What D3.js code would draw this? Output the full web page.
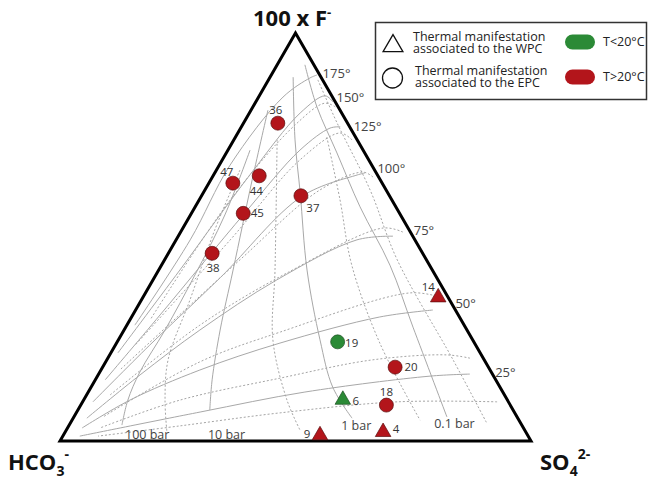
<!DOCTYPE html>
<html>
<head>
<meta charset="utf-8">
<script src="https://cdn.jsdelivr.net/npm/d3@7"></script>
<style>
  body { margin: 0; background: #fff; }
  svg text { font-family: "Open Sans", "Noto Sans", sans-serif; }
</style>
</head>
<body>
<div id="chart"></div>
<script>
// Samples: F (x100) and SO4 percentages, HCO3 is the remainder
const sampleIds = ['36', '47', '44', '45', '37', '38', '19', '20', '18', '14', '6', '9', '4'];
const sampleF = [77.9, 63.2, 65.0, 55.8, 60.1, 46.0, 24.3, 18.1, 8.8, 35.2, 10.1, 1.4, 2.2];
const sampleSO4 = [7.3, 5.1, 9.8, 11.0, 21.1, 9.3, 46.8, 62.1, 64.9, 62.7, 55.0, 54.5, 67.5];
const sampleGroup = ['EPC', 'EPC', 'EPC', 'EPC', 'EPC', 'EPC', 'EPC', 'EPC', 'EPC', 'WPC', 'WPC', 'WPC', 'WPC'];
const sampleTemp = ['hot', 'hot', 'hot', 'hot', 'hot', 'hot', 'cold', 'hot', 'hot', 'hot', 'cold', 'hot', 'hot'];

// Isotherms, [F, SO4] points from the right edge towards the HCO3 corner
const isothermNames = ['175°', '150°', '125°', '100°', '75°', '50°', '25°'];
const isothermLabelF = [90.2, 84.3, 77.0, 66.9, 51.5, 33.8, 16.9];
const solidIsotherms = [
  [[89.7, 9.7], [89.0, 8.6], [84.3, 5.2], [67.6, 2.3], [49.3, 3.0], [28.4, 1.7]],
  [[83.1, 16.4], [84.6, 14.0], [80.4, 10.8], [65.2, 7.7], [41.9, 4.5], [21.6, 1.5]],
  [[77.0, 21.0], [76.7, 19.0], [71.3, 15.3], [55.9, 11.3], [30.9, 5.8], [15.0, 2.1]],
  [[65.7, 31.9], [65.2, 30.5], [60.0, 21.4], [40.0, 14.0], [23.5, 7.3], [9.6, 2.2]],
  [[50.2, 45.6], [49.3, 38.4], [39.5, 26.3], [27.2, 16.1], [16.2, 8.9], [5.6, 2.9]],
  [[32.1, 63.1], [30.4, 52.7], [24.0, 34.7], [17.4, 21.0], [10.0, 9.8], [3.2, 3.1]],
  [[16.4, 78.8], [15.9, 70.6], [12.0, 46.0], [7.1, 26.2], [1.2, 3.6]]
];
const dottedIsotherms = [
  [[81.9, 17.5], [82.8, 14.8], [77.5, 11.2], [59.1, 6.6], [29.7, 4.3]],
  [[73.8, 25.1], [75.5, 21.7], [68.9, 16.5], [49.3, 11.5], [23.5, 4.2]],
  [[64.7, 34.1], [65.9, 31.4], [61.5, 24.4], [44.4, 16.0], [17.4, 4.0]],
  [[51.2, 47.2], [52.2, 42.5], [41.2, 27.6], [28.4, 15.5], [11.3, 5.0]],
  [[35.3, 63.0], [36.3, 56.2], [26.7, 33.4], [19.4, 20.0], [5.9, 6.2]],
  [[20.3, 76.9], [21.1, 71.6], [19.9, 56.5], [15.4, 39.0], [10.0, 20.4], [3.2, 6.9]],
  [[9.6, 88.0], [9.6, 66.8], [6.9, 43.3], [3.7, 23.6], [1.2, 7.5]]
];

// Isobars (PCO2), [F, SO4] points from top to bottom
const isobarNames = ['100 bar', '10 bar', '1 bar', '0.1 bar'];
const isobarLabelF = [1.2, 1.2, 3.2, 3.9];
const isobarLabelSO4 = [13.2, 30.8, 58.1, 77.5];
const solidIsobars = [
  [[71.3, 4.7], [55.4, 7.3], [40.7, 8.3], [27.2, 8.7], [16.9, 8.5], [10.0, 9.4], [3.9, 11.2]],
  [[81.1, 3.6], [64.0, 8.8], [41.9, 15.8], [27.2, 20.4], [15.0, 24.8], [7.6, 28.0]],
  [[89.2, 4.9], [73.8, 13.0], [60.8, 20.6], [41.9, 31.5], [24.8, 42.8], [13.2, 51.3], [5.6, 59.2]],
  [[92.2, 5.9], [81.9, 13.6], [70.6, 23.5], [57.4, 35.0], [43.1, 48.5], [27.9, 61.0], [5.9, 79.2]]
];
const dottedIsobars = [
  [[66.4, 5.0], [51.7, 7.0], [34.6, 10.3], [19.9, 13.0], [10.0, 17.3], [2.2, 21.6]],
  [[73.8, 9.2], [41.9, 24.7], [24.8, 32.8], [10.0, 43.2], [2.7, 49.6]],
  [[74.5, 19.4], [59.1, 29.9], [43.1, 40.4], [24.0, 55.9], [5.1, 73.9]],
  [[88.5, 10.5], [77.9, 19.9], [61.5, 35.1], [44.4, 49.4], [19.9, 73.5], [4.4, 88.4]]
];

const width = 649;
const height = 479;
const red = '#b3151b';
const green = '#2b8a36';

const svg = d3.select('#chart')
  .append('svg')
  .attr('width', width)
  .attr('height', height);

// ternary projection through two linear scales
const xScale = d3.scaleLinear().domain([0, 100]).range([60, 531]);
const yScale = d3.scaleLinear().domain([0, 100]).range([441, 33]);
const px = (f, s) => xScale(s + f / 2);
const py = f => yScale(f);

const curve = d3.line()
  .x(d => px(d[0], d[1]))
  .y(d => py(d[0]))
  .curve(d3.curveCatmullRom.alpha(0.5));

const grid = svg.append('g');

function drawLines(data, dashed) {
  grid.selectAll(null)
    .data(data)
    .join('path')
    .attr('d', curve)
    .attr('fill', 'none')
    .attr('stroke', dashed ? '#9a9a9a' : '#a8a8a8')
    .attr('stroke-width', dashed ? 0.9 : 1)
    .attr('stroke-dasharray', dashed ? '2,2' : null);
}
drawLines(dottedIsotherms, true);
drawLines(dottedIsobars, true);
drawLines(solidIsotherms, false);
drawLines(solidIsobars, false);

// outer triangle
const corners = [[100, 0], [0, 0], [0, 100]];
svg.append('path')
  .attr('d', d3.line().x(d => px(d[0], d[1])).y(d => py(d[0]))(corners) + 'Z')
  .attr('fill', 'none')
  .attr('stroke', '#000')
  .attr('stroke-width', 3)
  .attr('stroke-linejoin', 'miter');

// isotherm labels along the right edge
svg.selectAll('text.iso')
  .data(isothermNames)
  .join('text')
  .attr('class', 'iso')
  .attr('x', (d, i) => px(isothermLabelF[i], 100 - isothermLabelF[i]) + 4)
  .attr('y', (d, i) => py(isothermLabelF[i]))
  .attr('dy', '0.35em')
  .style('font-size', '13px')
  .style('fill', '#444')
  .text(d => d);

svg.selectAll('text.bar')
  .data(isobarNames)
  .join('text')
  .attr('class', 'bar')
  .attr('x', (d, i) => px(isobarLabelF[i], isobarLabelSO4[i]))
  .attr('y', (d, i) => py(isobarLabelF[i]))
  .attr('dy', '0.2em')
  .style('font-size', '12.5px')
  .style('fill', '#444')
  .text(d => d);

// samples
const samples = sampleIds.map((id, i) => ({
  id, f: sampleF[i], s: sampleSO4[i], group: sampleGroup[i], temp: sampleTemp[i]
}));

const labelOffset = {
  '36': [-2, -13], '47': [-6, -11], '44': [-3, 15], '45': [14, 0], '37': [12, 12],
  '38': [1, 15], '19': [14, 1], '20': [16, 0], '18': [0, -13], '14': [-10, -10],
  '6': [13, 1], '9': [-13, -1], '4': [13, -3]
};

const tri = d3.symbol().type(d3.symbolTriangle).size(105);

svg.selectAll('path.sample')
  .data(samples)
  .join('path')
  .attr('class', 'sample')
  .attr('transform', d => `translate(${px(d.f, d.s)},${py(d.f)})`)
  .attr('d', d => d.group === 'WPC' ? tri() : d3.symbol().type(d3.symbolCircle).size(Math.PI * 49)())
  .attr('fill', d => d.temp === 'hot' ? red : green)
  .attr('stroke', d => d.temp === 'hot' ? '#5a1010' : '#1d4f22')
  .attr('stroke-width', 0.7);

svg.selectAll('text.sample-label')
  .data(samples)
  .join('text')
  .attr('class', 'sample-label')
  .attr('x', d => px(d.f, d.s) + labelOffset[d.id][0])
  .attr('y', d => py(d.f) + labelOffset[d.id][1])
  .attr('dy', '0.35em')
  .attr('text-anchor', 'middle')
  .style('font-size', '11.5px')
  .style('fill', '#333')
  .text(d => d.id);

// vertex titles
const title = svg.append('g')
  .style('font-family', '"Liberation Sans", Arial, sans-serif')
  .style('font-weight', 'bold')
  .style('fill', '#111');

const topTitle = title.append('text')
  .attr('x', 253).attr('y', 26)
  .style('font-size', '22px');
topTitle.append('tspan').text('100 x F');
topTitle.append('tspan').attr('dy', -9).style('font-size', '13px').text('-');

const hco3 = title.append('text')
  .attr('x', 8).attr('y', 470)
  .style('font-size', '22px');
hco3.append('tspan').text('HCO');
hco3.append('tspan').attr('dy', 6).style('font-size', '14px').text('3');
hco3.append('tspan').attr('dy', -17).style('font-size', '14px').text('-');

const so4 = title.append('text')
  .attr('x', 540).attr('y', 470)
  .style('font-size', '22px');
so4.append('tspan').text('SO');
so4.append('tspan').attr('dy', 6).style('font-size', '14px').text('4');
so4.append('tspan').attr('dy', -17).style('font-size', '14px').text('2-');

// legend
const legend = svg.append('g');
legend.append('rect')
  .attr('x', 375.5).attr('y', 22.5)
  .attr('width', 271).attr('height', 77)
  .attr('fill', '#fff')
  .attr('stroke', '#333')
  .attr('stroke-width', 1.5);

legend.append('path')
  .attr('transform', 'translate(393,46)')
  .attr('d', d3.symbol().type(d3.symbolTriangle).size(170)())
  .attr('fill', 'none')
  .attr('stroke', '#111')
  .attr('stroke-width', 1.3);
legend.append('circle')
  .attr('cx', 392.5).attr('cy', 78).attr('r', 10)
  .attr('fill', 'none')
  .attr('stroke', '#111')
  .attr('stroke-width', 1.3);

const legendText = [
  ['Thermal manifestation', 'associated to the WPC', 413, 37],
  ['Thermal manifestation', 'associated to the EPC', 415, 71]
];
const lt = legend.selectAll('text.lt')
  .data(legendText)
  .join('text')
  .attr('class', 'lt')
  .attr('x', d => d[2]).attr('y', d => d[3])
  .attr('dy', '0.35em')
  .style('font-size', '12.5px')
  .style('fill', '#222');
lt.append('tspan').text(d => d[0]);
lt.append('tspan').attr('x', d => d[2]).attr('dy', 12).text(d => d[1]);

[[green, 'T<20°C', 42], [red, 'T>20°C', 77]].forEach(([c, t, y]) => {
  legend.append('rect')
    .attr('x', 565).attr('y', y - 7.5)
    .attr('width', 30).attr('height', 15)
    .attr('rx', 7.5)
    .attr('fill', c);
  legend.append('text')
    .attr('x', 603).attr('y', y)
    .attr('dy', '0.35em')
    .style('font-size', '12.5px')
    .style('fill', '#222')
    .text(t);
});
</script>
</body>
</html>
